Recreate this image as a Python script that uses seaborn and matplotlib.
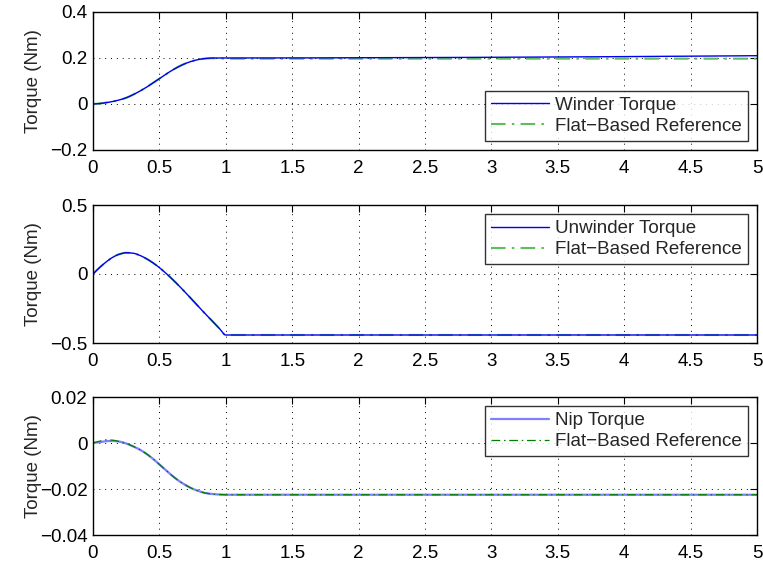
import numpy as np
import pandas as pd
import matplotlib
matplotlib.use("Agg")
import matplotlib.pyplot as plt
import seaborn as sns

# time samples (s)
t = [0.0, 0.05, 0.1, 0.15, 0.2, 0.25, 0.3, 0.35, 0.4, 0.45, 0.5, 0.55, 0.6, 0.65, 0.7,
     0.75, 0.8, 0.85, 0.9, 0.95, 1.0, 2.0, 3.0, 4.0, 5.0]

winder = [0.0, 0.002, 0.006, 0.011, 0.018, 0.027, 0.040, 0.055, 0.072, 0.091, 0.111, 0.130,
          0.148, 0.164, 0.177, 0.187, 0.194, 0.198, 0.200, 0.200, 0.200, 0.201, 0.203, 0.206, 0.210]
winder_ref = [0.0, 0.002, 0.006, 0.011, 0.018, 0.027, 0.040, 0.055, 0.072, 0.091, 0.111, 0.130,
              0.148, 0.164, 0.177, 0.187, 0.194, 0.198, 0.199, 0.198, 0.197, 0.197, 0.197, 0.197, 0.197]

unwinder = [0.0, 0.047, 0.088, 0.122, 0.144, 0.154, 0.151, 0.136, 0.112, 0.082, 0.046, 0.005,
            -0.040, -0.088, -0.138, -0.190, -0.242, -0.293, -0.343, -0.393, -0.442, -0.442, -0.442, -0.442, -0.442]
unwinder_ref = [0.0, 0.047, 0.088, 0.122, 0.144, 0.154, 0.151, 0.136, 0.112, 0.082, 0.046, 0.005,
                -0.040, -0.088, -0.138, -0.190, -0.242, -0.293, -0.343, -0.393, -0.442, -0.442, -0.442, -0.442, -0.442]

nip = [0.0, 0.0004, 0.0008, 0.0009, 0.0006, -0.0002, -0.0014, -0.0028, -0.0046, -0.0068, -0.0093, -0.0119,
       -0.0144, -0.0166, -0.0184, -0.0199, -0.0210, -0.0218, -0.0222, -0.0224, -0.0225, -0.0225, -0.0225, -0.0225, -0.0225]
nip_ref = [0.0, 0.0008, 0.0014, 0.0012, 0.0006, -0.0002, -0.0014, -0.0028, -0.0046, -0.0068, -0.0093, -0.0119,
           -0.0144, -0.0166, -0.0184, -0.0199, -0.0210, -0.0218, -0.0222, -0.0224, -0.0225, -0.0225, -0.0225, -0.0225, -0.0225]

x_ticks = [0, 0.5, 1, 1.5, 2, 2.5, 3, 3.5, 4, 4.5, 5]
x_labels = ["0", "0.5", "1", "1.5", "2", "2.5", "3", "3.5", "4", "4.5", "5"]
y_ticks1 = [-0.2, 0, 0.2, 0.4]
y_labels1 = ["\u22120.2", "0", "0.2", "0.4"]
y_ticks2 = [-0.5, 0, 0.5]
y_labels2 = ["\u22120.5", "0", "0.5"]
y_ticks3 = [-0.04, -0.02, 0, 0.02]
y_labels3 = ["\u22120.04", "\u22120.02", "0", "0.02"]

sns.set_theme(style="white")
plt.rcParams['font.family'] = ['Liberation Sans', 'DejaVu Sans']
plt.rcParams['xtick.direction'] = 'in'
plt.rcParams['ytick.direction'] = 'in'

FS = 13.5
fig = plt.figure(figsize=(7.63, 5.66), dpi=100)
W, H = 763, 566
left, right = 93, 757
tops = [12, 205, 397]
bots = [150, 343, 535]
axes = [fig.add_axes([left / W, 1 - b / H, (right - left) / W, (b - tp) / H]) for tp, b in zip(tops, bots)]


def smooth(tv, yv):
    tt = np.linspace(0, 5, 1001)
    s = pd.Series(yv, index=tv)
    s = s.reindex(sorted(set(np.round(tt, 4).tolist() + tv))).interpolate(method="pchip")
    return s.index.values, s.values


dashdot = (0, (7, 3, 1.2, 3))
panels = [
    (winder, winder_ref, "Winder Torque", "#0000ee", 1.0, "#5cbf5c", 1.5, (-0.2, 0.4), y_ticks1, y_labels1, "lower right"),
    (unwinder, unwinder_ref, "Unwinder Torque", "#0000ee", 1.0, "#5cbf5c", 1.5, (-0.5, 0.5), y_ticks2, y_labels2, "upper right"),
    (nip, nip_ref, "Nip Torque", "#7f7fff", 1.6, "#008000", 0.9, (-0.04, 0.02), y_ticks3, y_labels3, "upper right"),
]

for i, (ax, (y, yr, name, c1, lw1, c2, lw2, ylim, yt, yl, loc)) in enumerate(zip(axes, panels)):
    tx, ys = smooth(t, y)
    _, yrs = smooth(t, yr)
    df = pd.DataFrame({"t": tx, "y": ys, "yr": yrs})
    if i < 2:
        # reference underneath, measured torque on top
        sns.lineplot(data=df, x="t", y="yr", ax=ax, color=c2, lw=lw2, ls=dashdot, label="Flat\u2212Based Reference")
        sns.lineplot(data=df, x="t", y="y", ax=ax, color=c1, lw=lw1, label=name)
        handles, labels = ax.get_legend_handles_labels()
        handles, labels = handles[::-1], labels[::-1]
    else:
        sns.lineplot(data=df, x="t", y="y", ax=ax, color=c1, lw=lw1, label=name)
        sns.lineplot(data=df, x="t", y="yr", ax=ax, color=c2, lw=lw2, ls=dashdot, label="Flat\u2212Based Reference")
        handles, labels = ax.get_legend_handles_labels()
    ax.set_xlim(0, 5)
    ax.set_ylim(*ylim)
    ax.set_xticks(x_ticks)
    ax.set_xticklabels(x_labels)
    ax.set_yticks(yt)
    ax.set_yticklabels(yl)
    ax.set_xlabel("")
    ax.set_ylabel("Torque (Nm)", fontsize=FS)
    ax.grid(True, color="black", ls=(0, (1, 5)), lw=0.7)
    ax.tick_params(axis="both", labelsize=FS, length=5, width=0.8, top=True, right=True, pad=4, colors="black")
    ax.tick_params(axis="x", pad=7)
    for sp in ax.spines.values():
        sp.set_color("black")
        sp.set_linewidth(1.0)
    leg = ax.legend(handles, labels, loc=loc, fontsize=FS, frameon=True, fancybox=False, borderaxespad=0.5,
                    handlelength=3.1, handletextpad=0.35, borderpad=0.3, labelspacing=0.22)
    leg.get_frame().set_edgecolor("black")
    leg.get_frame().set_linewidth(1.0)
    ax.yaxis.set_label_coords(-0.077, 0.5)

fig.savefig("out.png", dpi=100)
